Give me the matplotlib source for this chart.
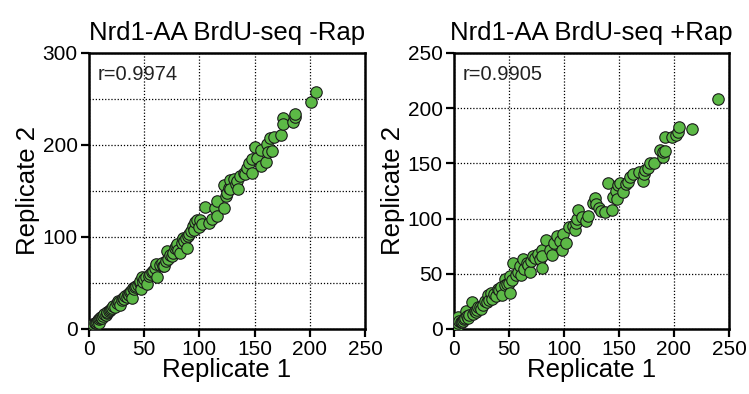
import numpy as np
import matplotlib.pyplot as plt

plt.rcParams['font.family'] = ['Liberation Sans', 'DejaVu Sans']

# -Rap replicate values
rep1_minus = [1, 2, 3, 4, 4, 5, 6, 7, 8, 9, 9, 10, 11, 12, 13, 14, 15, 16, 16, 18,
              19, 20, 21, 22, 24, 25, 26, 27, 28, 30, 31, 32, 33, 34, 35, 36, 37, 38, 39, 40,
              41, 42, 43, 44, 46, 46, 47, 48, 49, 50, 52, 53, 54, 55, 57, 58, 60, 61, 62, 64,
              66, 67, 68, 70, 71, 72, 73, 75, 76, 78, 79, 80, 81, 82, 84, 85, 86, 88, 89, 90,
              91, 92, 94, 95, 96, 98, 100, 101, 102, 105, 109, 111, 114, 116, 116, 122, 122, 124, 125, 127,
              128, 128, 131, 133, 134, 135, 137, 140, 141, 143, 145, 148, 148, 150, 152, 156, 156, 160, 161, 162,
              164, 166, 168, 174, 176, 176, 185, 187, 187, 201, 206]
rep2_minus = [1, 2, 4, 3, 5, 6, 7, 8, 10, 7, 11, 12, 13, 12, 14, 16, 15, 17, 19, 20,
              21, 22, 23, 25, 24, 28, 30, 29, 26, 32, 34, 33, 36, 35, 38, 37, 40, 41, 34, 45,
              44, 46, 47, 48, 50, 52, 44, 56, 51, 54, 57, 49, 58, 60, 62, 63, 66, 71, 57, 70,
              72, 69, 68, 74, 85, 76, 80, 79, 83, 88, 90, 92, 86, 83, 94, 99, 96, 99, 88, 101,
              103, 106, 112, 108, 116, 118, 111, 118, 114, 133, 115, 120, 132, 139, 123, 131, 157, 145, 148, 153,
              162, 152, 163, 158, 161, 152, 166, 170, 168, 175, 180, 185, 170, 198, 186, 177, 195, 182, 201, 192,
              208, 193, 209, 211, 229, 223, 225, 230, 234, 247, 258]

# +Rap replicate values
rep1_plus = [1, 1, 2, 3, 4, 4, 5, 6, 7, 8, 9, 10, 11, 12, 13, 14, 16, 17, 19, 20,
             21, 22, 24, 25, 26, 28, 30, 31, 32, 34, 35, 36, 38, 40, 41, 43, 44, 46, 46, 48,
             50, 51, 51, 53, 54, 56, 58, 60, 61, 63, 64, 66, 67, 69, 70, 72, 74, 76, 78, 80,
             80, 80, 84, 87, 89, 91, 94, 96, 98, 99, 102, 105, 108, 110, 111, 112, 113, 116, 120, 122,
             126, 128, 129, 132, 134, 137, 140, 144, 145, 147, 148, 149, 151, 154, 156, 158, 160, 163, 168, 172,
             173, 174, 176, 178, 182, 187, 190, 190, 192, 192, 198, 202, 204, 205, 216, 240]
rep2_plus = [2, 3, 4, 2, 11, 5, 7, 6, 6, 7, 9, 10, 16, 12, 10, 13, 24, 14, 16, 15,
             17, 20, 20, 18, 22, 25, 24, 31, 26, 33, 27, 32, 30, 36, 35, 38, 31, 45, 40, 41,
             42, 33, 48, 44, 60, 49, 52, 57, 49, 63, 54, 60, 58, 52, 62, 66, 64, 68, 63, 72,
             66, 55, 81, 72, 67, 78, 84, 80, 72, 86, 78, 92, 93, 90, 96, 100, 108, 101, 98, 102,
             114, 119, 113, 110, 107, 106, 132, 108, 120, 125, 118, 130, 132, 124, 131, 133, 138, 140, 142, 134,
             140, 144, 146, 150, 150, 162, 156, 160, 174, 161, 174, 176, 178, 183, 181, 208]

r_vals = ['r=0.9974', 'r=0.9905']
titles = ['Nrd1-AA BrdU-seq -Rap', 'Nrd1-AA BrdU-seq +Rap']

fig = plt.figure(figsize=(7.49, 3.94), dpi=100)
ax1 = fig.add_axes([0.1188, 0.165, 0.3685, 0.7005])
ax2 = fig.add_axes([0.6061, 0.165, 0.3672, 0.7005])

green = '#5cb946'

def style(ax, xs, ys, title, rtxt, ymax, ymajor, yminor):
    ax.scatter(xs, ys, s=68, c=green, edgecolors='#1a1a1a', linewidths=0.8, zorder=3)
    ax.set_xlim(0, 250)
    ax.set_ylim(0, ymax)
    ax.set_xticks([0, 50, 100, 150, 200, 250])
    ax.set_yticks(ymajor)
    ax.set_yticks(yminor, minor=True)
    ax.set_xticks([], minor=True)
    ax.grid(True, which='both', color='black', linestyle=(0, (1, 1.5)), linewidth=0.9)
    ax.set_axisbelow(True)
    for sp in ax.spines.values():
        sp.set_linewidth(1.8)
    ax.tick_params(which='major', direction='out', length=6, width=1.6, labelsize=15, pad=2)
    ax.tick_params(which='minor', length=0)
    ax.set_title(title, fontsize=18.5, pad=9)
    ax.set_xlabel('Replicate 1', fontsize=18.5, labelpad=-1)
    ax.set_ylabel('Replicate 2', fontsize=18.5, labelpad=2)
    ax.text(0.03, 0.955, rtxt, transform=ax.transAxes, fontsize=14.5, va='top', ha='left', color='#222222')

style(ax1, rep1_minus, rep2_minus, titles[0], r_vals[0], 300, [0, 100, 200, 300], [50, 150, 250])
style(ax2, rep1_plus, rep2_plus, titles[1], r_vals[1], 250, [0, 50, 100, 150, 200, 250], [])

fig.savefig('out.png', dpi=100)
